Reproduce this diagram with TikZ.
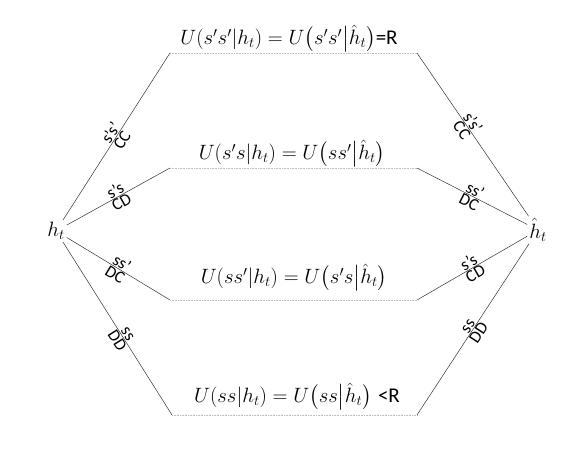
\documentclass[tikz,border=0pt]{standalone}
\usepackage{amsmath}
\usepackage{fontspec}
\setsansfont{Carlito}
\begin{document}
\begin{tikzpicture}[x=1pt,y=1pt,
  edge/.style={draw=black!80, line width=0.5pt},
  rung/.style={draw=black!25, densely dotted, line width=0.6pt},
  endpt/.style={inner sep=2pt, font=\fontsize{21}{24}\selectfont},
  eq/.style={anchor=south, inner sep=1pt, font=\fontsize{21}{24}\selectfont},
  lab/.style={sloped, inner sep=0.8pt, font=\sffamily\fontsize{17}{18}\selectfont}
]
\useasboundingbox (0,0) rectangle (581,449);
% end nodes
\node[endpt] (ht) at (56,218) {$h_t$};
\node[endpt] (hht) at (538,219) {$\hat{h}_t$};
% corners
\coordinate (c1l) at (170,396); \coordinate (c1r) at (417,396);
\coordinate (c2l) at (170,281); \coordinate (c2r) at (417,281);
\coordinate (c3l) at (170,149); \coordinate (c3r) at (417,149);
\coordinate (c4l) at (172,34);  \coordinate (c4r) at (417,34);
% dotted rungs
\draw[rung] (c1l) -- (c1r);
\draw[rung] (c2l) -- (c2r);
\draw[rung] (c3l) -- (c3r);
\draw[rung] (c4l) -- (c4r);
% equations
\node[eq] (e1) at (289,396) {$U(s's'|h_t)=U\bigl(s's'\bigr|\hat{h}_t\bigr)$\textsf{=R}};
\node[eq] (e2) at (292,281) {$U(s's|h_t)=U\bigl(ss'\bigr|\hat{h}_t\bigr)$};
\node[eq] (e3) at (294,157) {$U(ss'|h_t)=U\bigl(s's\bigr|\hat{h}_t\bigr)$};
\node[eq] (e4) at (297,38) {$U(ss|h_t)=U\bigl(ss\bigr|\hat{h}_t\bigr)$ \textsf{<R}};
% left edges
\draw[edge] (ht) -- (c1l) node[lab,above,pos=0.5]{s's'} node[lab,below,pos=0.5]{CC};
\draw[edge] (ht) -- (c2l) node[lab,above,pos=0.5]{s's} node[lab,below,pos=0.5]{CD};
\draw[edge] (ht) -- (c3l) node[lab,above,pos=0.5]{ss'} node[lab,below,pos=0.5]{DC};
\draw[edge] (ht) -- (c4l) node[lab,above,pos=0.55]{ss} node[lab,below,pos=0.55]{DD};
% right edges
\draw[edge] (c1r) -- (hht) node[lab,above,pos=0.45]{s's'} node[lab,below,pos=0.45]{CC};
\draw[edge] (c2r) -- (hht) node[lab,above,pos=0.5]{ss'} node[lab,below,pos=0.5]{DC};
\draw[edge] (c3r) -- (hht) node[lab,above,pos=0.5]{s's} node[lab,below,pos=0.5]{CD};
\draw[edge] (c4r) -- (hht) node[lab,above,pos=0.5]{ss} node[lab,below,pos=0.5]{DD};
\end{tikzpicture}
\end{document}
